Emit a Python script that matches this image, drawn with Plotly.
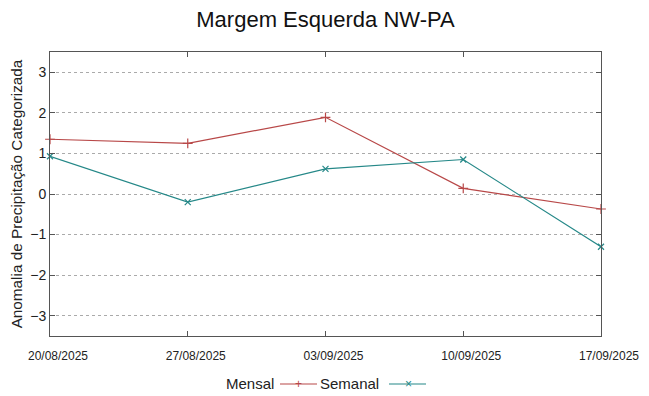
import plotly.graph_objects as go

dates = ["20/08/2025", "27/08/2025", "03/09/2025", "10/09/2025", "17/09/2025"]
mensal = [1.35, 1.25, 1.89, 0.14, -0.37]
semanal = [0.93, -0.20, 0.62, 0.85, -1.30]
y_ticks = [-3, -2, -1, 0, 1, 2, 3]

red = "#b84848"
teal = "#258888"
font_family = "Liberation Sans, Arial, sans-serif"

# page body has an 8px margin; figure placed so the plot lands where the reference has it
W, H = 641, 388
L, R, T, B = 42, 48, 44, 60
pw, ph = W - L - R, H - T - B


def px(x):
    return (x - 8 - L) / pw


def py(y):
    return (H - B - (y - 8)) / ph


fig = go.Figure()
fig.add_trace(go.Scatter(x=dates, y=mensal, mode="lines+markers", name="Mensal",
                         line=dict(color=red, width=1.2),
                         marker=dict(symbol="cross-thin", size=7, line=dict(color=red, width=1.2)),
                         cliponaxis=False, showlegend=False))
fig.add_trace(go.Scatter(x=dates, y=semanal, mode="lines+markers", name="Semanal",
                         line=dict(color=teal, width=1.2),
                         marker=dict(symbol="x-thin", size=6, line=dict(color=teal, width=1.2)),
                         cliponaxis=False, showlegend=False))

fig.update_layout(
    width=W, height=H,
    margin=dict(l=L, r=R, t=T, b=B, autoexpand=False),
    paper_bgcolor="white", plot_bgcolor="white",
    font=dict(family=font_family, color="#222222"),
    title=dict(text="Margem Esquerda NW-PA", x=0.5, xanchor="center", xref="paper",
               y=1 - 11 / H, yref="container", yanchor="middle", automargin=False,
               font=dict(size=22, color="#111111")),
)
fig.update_xaxes(type="category", range=[0, 4], showgrid=False, showline=True, linecolor="#555555",
                 linewidth=1, mirror="ticks", ticks="inside", ticklen=5, tickcolor="#555555",
                 tickfont=dict(size=12, color="#222222"), zeroline=False, automargin=False,
                 ticklabelshift=8, ticklabelstandoff=9)
fig.update_yaxes(range=[-3.5, 3.5], tickvals=y_ticks, showgrid=True, gridcolor="#aaaaaa",
                 griddash="dot", gridwidth=1, showline=True, linecolor="#555555", linewidth=1,
                 mirror="ticks", ticks="inside", ticklen=5, tickcolor="#555555",
                 tickfont=dict(size=14, color="#222222"), zeroline=False, automargin=False,
                 title=dict(text="Anomalia de Precipitação Categorizada", font=dict(size=15.3, color="#222222"),
                            standoff=14))

# manual gnuplot-style legend
ly = py(383)
fig.add_annotation(xref="paper", yref="paper", x=px(276), y=ly, text="Mensal",
                   showarrow=False, xanchor="right", yanchor="middle", font=dict(size=15, color="#222222"))
fig.add_shape(type="line", xref="paper", yref="paper", x0=px(280), x1=px(317),
              y0=py(384), y1=py(384), line=dict(color=red, width=1.2))
fig.add_annotation(xref="paper", yref="paper", x=px(298), y=py(384), text="+",
                   showarrow=False, xanchor="center", yanchor="middle", font=dict(size=12, color=red))
fig.add_annotation(xref="paper", yref="paper", x=px(381), y=ly, text="Semanal",
                   showarrow=False, xanchor="right", yanchor="middle", font=dict(size=15, color="#222222"))
fig.add_shape(type="line", xref="paper", yref="paper", x0=px(389), x1=px(426),
              y0=py(384), y1=py(384), line=dict(color=teal, width=1.2))
fig.add_annotation(xref="paper", yref="paper", x=px(408), y=py(384), text="×",
                   showarrow=False, xanchor="center", yanchor="middle", font=dict(size=12, color=teal))

fig.write_html("out.html")
